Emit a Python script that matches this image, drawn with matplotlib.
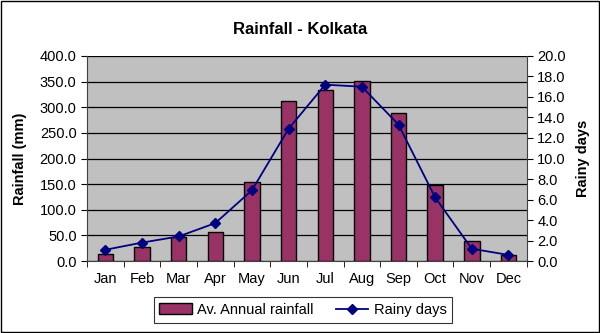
import matplotlib.pyplot as plt
import numpy as np
from matplotlib.patches import Rectangle

plt.rcParams["font.family"] = ["Liberation Sans", "DejaVu Sans"]

months = ["Jan", "Feb", "Mar", "Apr", "May", "Jun",
          "Jul", "Aug", "Sep", "Oct", "Nov", "Dec"]
rainfall = [14, 27, 47, 57, 155, 313, 333, 352, 289, 148, 39, 11]
rainy_days = [1.1, 1.8, 2.4, 3.7, 6.9, 12.9, 17.2, 17.0, 13.3, 6.2, 1.2, 0.6]

BAR = "#993366"
LINE = "#000080"

fig = plt.figure(figsize=(6, 3.33), dpi=100)
ax = fig.add_axes([0.145, 0.216, 0.733, 0.616])
ax.set_facecolor("#c0c0c0")

x = np.arange(len(months))
bars = ax.bar(x, rainfall, width=0.42, color=BAR, edgecolor="black",
              linewidth=1.0, zorder=3, label="Av. Annual rainfall")
ax.set_xlim(-0.5, 11.5)
ax.set_ylim(0, 400)
ax.set_yticks(np.arange(0, 401, 50))
ax.set_yticklabels([f"{v:.1f}" for v in np.arange(0, 401, 50)])
ax.grid(axis="y", color="black", linewidth=0.9, zorder=1)
ax.set_xticks(x)
ax.set_xticklabels(months)
ax.set_xticks(np.arange(-0.5, 12, 1), minor=True)
ax.tick_params(axis="x", which="major", length=0, pad=8)
ax.tick_params(axis="x", which="minor", length=4, direction="out")
ax.tick_params(axis="y", length=4, direction="out")
ax.tick_params(labelsize=10.5)
ax.set_ylabel("Rainfall (mm)", fontsize=10.5, fontweight="bold", labelpad=9)
for s in ["top", "right"]:
    ax.spines[s].set_visible(False)
for s in ["left", "bottom"]:
    ax.spines[s].set_color("#404040")

ax2 = ax.twinx()
line, = ax2.plot(x, rainy_days, color=LINE, marker="D", markersize=5.5,
                 linewidth=1.3, zorder=4, label="Rainy days")
ax2.set_ylim(0, 20)
ax2.set_yticks(np.arange(0, 21, 2))
ax2.set_yticklabels([f"{v:.1f}" for v in np.arange(0, 21, 2)])
ax2.tick_params(axis="y", length=4, direction="out", labelsize=10.5)
ax2.set_ylabel("Rainy days", fontsize=10.5, fontweight="bold", labelpad=7)
for s in ["top", "left", "bottom"]:
    ax2.spines[s].set_visible(False)
ax2.spines["right"].set_color("#404040")

fig.suptitle("Rainfall - Kolkata", fontsize=12, fontweight="bold", y=0.935)

leg = fig.legend([bars, line], ["Av. Annual rainfall", "Rainy days"],
                 loc="center", bbox_to_anchor=(0.505, 0.07), ncols=2,
                 fontsize=10.5, frameon=True, fancybox=False,
                 edgecolor="black", handlelength=2.2, columnspacing=1.5,
                 handletextpad=0.4)
leg.get_frame().set_linewidth(0.8)

fig.patches.append(Rectangle((0.002, 0.003), 0.996, 0.994,
                             transform=fig.transFigure, fill=False,
                             edgecolor="black", linewidth=1.0))

fig.savefig("out.png", dpi=100)
